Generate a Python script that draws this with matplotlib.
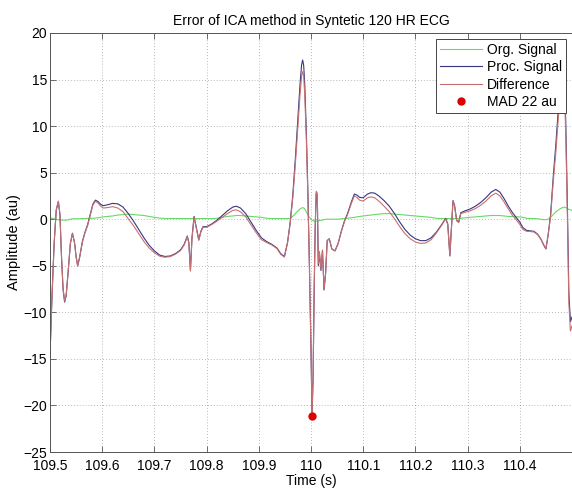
import matplotlib
matplotlib.use('Agg')
import matplotlib.pyplot as plt
import numpy as np

plt.rcParams.update({
    'font.family': ['Liberation Sans', 'DejaVu Sans'],
    'font.size': 10,
    'xtick.direction': 'in',
    'ytick.direction': 'in',
    'xtick.top': True,
    'ytick.right': False,
})

# ==========================================
# DATA
# ==========================================
time_s = [
    109.500, 109.504, 109.508, 109.512, 109.516, 109.519, 109.522, 109.525, 109.528, 109.531,
    109.535, 109.539, 109.543, 109.547, 109.550, 109.553, 109.557, 109.562, 109.567, 109.572,
    109.577, 109.582, 109.587, 109.592, 109.597, 109.602, 109.610, 109.620, 109.630, 109.640,
    109.650, 109.660, 109.670, 109.680, 109.690, 109.700, 109.710, 109.720, 109.730, 109.740,
    109.750, 109.757, 109.763, 109.766, 109.769, 109.772, 109.776, 109.780, 109.785, 109.789,
    109.793, 109.800, 109.810, 109.820, 109.830, 109.840, 109.850, 109.857, 109.865, 109.875,
    109.885, 109.895, 109.905, 109.915, 109.925, 109.935, 109.942, 109.949, 109.955, 109.960,
    109.965, 109.970, 109.975, 109.979, 109.982, 109.984, 109.986, 109.988, 109.991, 109.994,
    109.997, 110.000, 110.002, 110.004, 110.006, 110.008, 110.010, 110.012, 110.014, 110.016,
    110.019, 110.022, 110.025, 110.028, 110.031, 110.035, 110.040, 110.046, 110.052, 110.058,
    110.064, 110.070, 110.077, 110.083, 110.088, 110.093, 110.100, 110.108, 110.115, 110.122,
    110.130, 110.140, 110.150, 110.160, 110.170, 110.180, 110.190, 110.200, 110.210, 110.220,
    110.230, 110.240, 110.250, 110.258, 110.262, 110.266, 110.269, 110.272, 110.275, 110.279,
    110.283, 110.287, 110.295, 110.305, 110.315, 110.325, 110.335, 110.345, 110.354, 110.362,
    110.370, 110.378, 110.386, 110.393, 110.400, 110.406, 110.413, 110.420, 110.427, 110.434,
    110.440, 110.446, 110.450, 110.454, 110.459, 110.464, 110.469, 110.474, 110.478, 110.482,
    110.485, 110.488, 110.491, 110.494, 110.497, 110.500,
]

proc_signal = [
    -14.5, -8.0, -2.5, 1.0, 1.9, 0.5, -4.0, -7.5, -8.9, -8.2,
    -5.5, -2.6, -1.5, -2.5, -4.0, -5.0, -4.0, -2.4, -1.4, -0.6,
    0.5, 1.6, 2.05, 1.9, 1.6, 1.45, 1.55, 1.7, 1.65, 1.3,
    0.6, -0.2, -1.1, -2.0, -2.8, -3.4, -3.85, -4.0, -3.95, -3.7,
    -3.3, -2.7, -1.8, -2.5, -5.5, -2.0, 0.3, -0.8, -2.2, -1.3,
    -0.8, -0.8, -0.5, -0.1, 0.4, 0.9, 1.3, 1.4, 1.2, 0.6,
    -0.3, -1.2, -2.0, -2.4, -2.7, -3.1, -3.7, -4.0, -2.5, -0.4,
    2.5, 6.5, 11.0, 14.5, 16.6, 17.1, 16.5, 14.5, 9.5, 3.0,
    -5.0, -14.0, -21.2, -17.0, -8.0, -1.0, 2.8, 2.6, -5.0, -3.6,
    -5.5, -3.4, -7.6, -5.8, -2.3, -2.1, -3.2, -3.4, -2.6, -1.3,
    -0.2, 0.6, 1.8, 2.7, 2.6, 2.35, 2.3, 2.7, 2.85, 2.8,
    2.5, 2.0, 1.4, 0.6, -0.3, -1.1, -1.7, -2.1, -2.3, -2.3,
    -2.0, -1.4, -0.6, 0.1, -0.5, -3.9, -1.0, 2.0, 1.5, -0.1,
    -0.3, 0.7, 0.9, 1.1, 1.4, 1.8, 2.3, 2.9, 3.2, 2.9,
    2.2, 1.4, 0.7, 0.2, -0.3, -0.9, -1.2, -1.25, -1.3, -1.6,
    -2.1, -2.8, -3.2, -1.8, 0.5, 4.5, 8.0, 12.0, 15.0, 16.5,
    16.0, 10.5, 2.0, -8.0, -11.0, -10.5,
]

org_signal = [
    0.15, 0.1, 0.05, 0.0, -0.05, -0.1, -0.1, -0.1, -0.1, -0.1,
    -0.05, 0.0, 0.05, 0.05, 0.05, 0.05, 0.05, 0.07, 0.07, 0.1,
    0.1, 0.1, 0.12, 0.15, 0.2, 0.25, 0.3, 0.35, 0.45, 0.5,
    0.55, 0.5, 0.45, 0.4, 0.3, 0.2, 0.12, 0.08, 0.07, 0.07,
    0.07, 0.07, 0.07, 0.07, 0.07, 0.07, 0.07, 0.07, 0.07, 0.07,
    0.07, 0.07, 0.07, 0.1, 0.2, 0.3, 0.35, 0.4, 0.4, 0.35,
    0.3, 0.25, 0.2, 0.1, 0.07, 0.07, 0.07, 0.07, 0.07, 0.1,
    0.3, 0.6, 0.9, 1.1, 1.2, 1.25, 1.2, 1.1, 0.8, 0.5,
    0.2, 0.0, -0.1, -0.15, -0.2, -0.2, -0.2, -0.2, -0.2, -0.15,
    -0.1, -0.1, -0.05, 0.0, 0.0, 0.0, 0.0, 0.0, 0.0, 0.05,
    0.07, 0.1, 0.15, 0.2, 0.25, 0.3, 0.35, 0.4, 0.45, 0.5,
    0.55, 0.6, 0.6, 0.55, 0.5, 0.45, 0.4, 0.35, 0.3, 0.25,
    0.2, 0.1, 0.07, 0.07, 0.07, 0.07, 0.07, 0.07, 0.07, 0.07,
    0.07, 0.1, 0.15, 0.2, 0.25, 0.3, 0.35, 0.4, 0.4, 0.4,
    0.35, 0.3, 0.3, 0.25, 0.25, 0.2, 0.1, 0.07, 0.07, 0.05,
    0.0, -0.05, -0.05, 0.0, 0.2, 0.5, 0.8, 1.0, 1.15, 1.25,
    1.3, 1.25, 1.15, 1.05, 1.0, 0.95,
]

t = np.array(time_s)
proc = np.array(proc_signal)
org = np.array(org_signal)
diff = proc - org

# ==========================================
# PLOT
# ==========================================
fig = plt.figure(figsize=(5.72, 4.91), dpi=100)
ax = fig.add_axes([50 / 572, 39 / 491, 522 / 572, 419 / 491])

ax.plot(t, org, color='#66d966', linewidth=0.8, label='Org. Signal')
ax.plot(t, proc, color='#36367f', linewidth=0.8, label='Proc. Signal')
ax.plot(t, diff, color='#c87070', linewidth=0.8, label='Difference')

i_mad = np.argmax(np.abs(diff))
ax.plot(t[i_mad], diff[i_mad], 'o', color='#e00000', markersize=5,
        linestyle='none', label='MAD 22 au')

ax.set_xlim(109.5, 110.5)
ax.set_ylim(-25, 20)
ax.set_xticks(np.arange(109.5, 110.45, 0.1))
ax.set_xticklabels(['109.5', '109.6', '109.7', '109.8', '109.9', '110',
                    '110.1', '110.2', '110.3', '110.4'])
ax.set_yticks(np.arange(-25, 21, 5))
ax.tick_params(length=4, width=0.6, color='#555555', labelsize=10)
ax.tick_params(axis='x', pad=5)
ax.tick_params(axis='y', pad=2)
ax.grid(True, linestyle=(0, (1, 2.5)), color='#a0a0a0', linewidth=0.6)
for sp in ax.spines.values():
    sp.set_color('#555555')
    sp.set_linewidth(0.7)
ax.spines['right'].set_visible(False)

ax.set_title('Error of ICA method in Syntetic 120 HR ECG', fontsize=10, pad=6)
ax.set_xlabel('Time (s)', fontsize=10, labelpad=1)
ax.set_ylabel('Amplitude (au)', fontsize=10.5, labelpad=2)

leg = ax.legend(loc='upper right', fontsize=10, handlelength=3.0,
                labelspacing=0.25, borderpad=0.3, borderaxespad=0.4,
                handletextpad=0.4, fancybox=False, framealpha=1.0)
leg.get_frame().set_edgecolor('#444444')
leg.get_frame().set_linewidth(0.7)

fig.savefig('out.png', dpi=100)
